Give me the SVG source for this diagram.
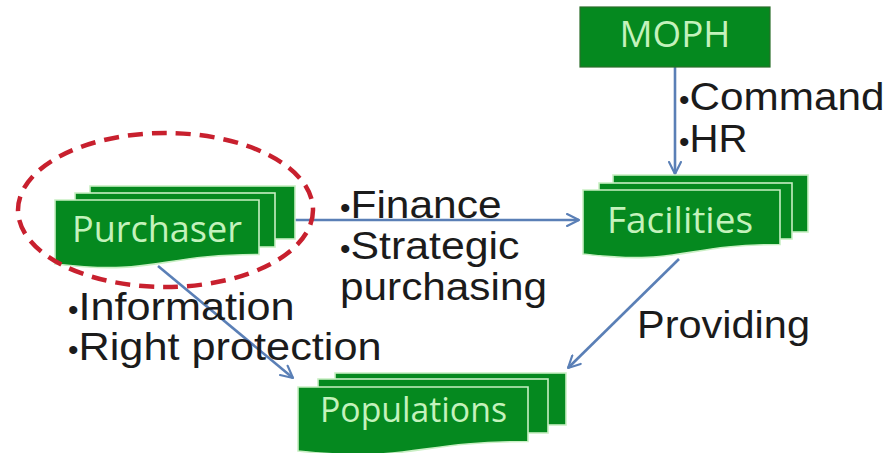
<svg xmlns="http://www.w3.org/2000/svg" width="892" height="453" viewBox="0 0 892 453">
  <style>
    .page { fill: #05891f; stroke: #c9efc4; stroke-width: 1.6; }
    .box { fill: #05891f; stroke: #2a6e2a; stroke-width: 1.2; }
    .name { font-family: "Open Sans", "Noto Sans", sans-serif; fill: #c4f2bc; }
    .label { font-family: "Liberation Sans", Arial, sans-serif; font-size: 38px; fill: #1b1b1b; }
    .dot { font-size: 30px; }
    .link { stroke: #5a7fb6; stroke-width: 2.6; fill: none; marker-end: url(#head); }
    .focus { fill: none; stroke: #c8202e; stroke-width: 4.5; stroke-dasharray: 15 9; }
  </style>
  <defs>
    <marker id="head" viewBox="0 0 12 12" refX="11" refY="6" markerWidth="5.5" markerHeight="5.5" markerUnits="strokeWidth" orient="auto">
      <path d="M1,1 L11,6 L1,11" fill="none" stroke="#5a7fb6" stroke-width="1.8" stroke-linecap="round" stroke-linejoin="round"/>
    </marker>
  </defs>

  <rect width="892" height="453" fill="#ffffff"/>

  <!-- connectors -->
  <g id="connectors">
    <line class="link" x1="675" y1="67" x2="675" y2="174"/>
    <line class="link" x1="294" y1="220" x2="579" y2="220"/>
    <line class="link" x1="158" y1="266" x2="293" y2="378"/>
    <line class="link" x1="679" y1="259" x2="568" y2="368"/>
  </g>

  <!-- MOPH -->
  <g id="moph">
    <rect class="box" x="580" y="7" width="190" height="60"/>
    <text class="name" x="675" y="47" font-size="37" text-anchor="middle" textLength="111" lengthAdjust="spacingAndGlyphs">MOPH</text>
  </g>

  <!-- Purchaser -->
  <g id="purchaser">
    <rect class="page" x="90" y="186" width="205" height="53"/>
    <rect class="page" x="75" y="193" width="200" height="54"/>
    <path class="page" d="M55,200 H259 V254.5 C157,254.5 157,276 55,264 Z"/>
    <text class="name" x="72" y="242" font-size="37" textLength="170" lengthAdjust="spacingAndGlyphs">Purchaser</text>
  </g>

  <!-- Facilities -->
  <g id="facilities">
    <rect class="page" x="613" y="175" width="195" height="57"/>
    <rect class="page" x="599" y="183" width="193" height="56"/>
    <path class="page" d="M583,190 H780 V244.5 C681.5,244.5 681.5,266 583,254 Z"/>
    <text class="name" x="607" y="233" font-size="37" textLength="146" lengthAdjust="spacingAndGlyphs">Facilities</text>
  </g>

  <!-- Populations -->
  <g id="populations">
    <rect class="page" x="335" y="373" width="231" height="52"/>
    <rect class="page" x="318" y="379" width="230" height="54"/>
    <path class="page" d="M298,387 H528 V441.5 C413,441.5 413,463 298,451 Z"/>
    <text class="name" x="320" y="422" font-size="35" textLength="187" lengthAdjust="spacingAndGlyphs">Populations</text>
  </g>

  <!-- flow labels -->
  <g id="labels">
    <text class="label" x="679" y="110"><tspan class="dot">•</tspan><tspan textLength="195" lengthAdjust="spacingAndGlyphs">Command</tspan></text>
    <text class="label" x="679" y="152"><tspan class="dot">•</tspan><tspan textLength="58" lengthAdjust="spacingAndGlyphs">HR</tspan></text>
    <text class="label" x="340" y="218"><tspan class="dot">•</tspan><tspan textLength="151" lengthAdjust="spacingAndGlyphs">Finance</tspan></text>
    <text class="label" x="340" y="259"><tspan class="dot">•</tspan><tspan textLength="169" lengthAdjust="spacingAndGlyphs">Strategic</tspan></text>
    <text class="label" x="340" y="300" textLength="207" lengthAdjust="spacingAndGlyphs">purchasing</text>
    <text class="label" x="68" y="320"><tspan class="dot">•</tspan><tspan textLength="216" lengthAdjust="spacingAndGlyphs">Information</tspan></text>
    <text class="label" x="68" y="360"><tspan class="dot">•</tspan><tspan textLength="303" lengthAdjust="spacingAndGlyphs">Right protection</tspan></text>
    <text class="label" x="637" y="338" textLength="173" lengthAdjust="spacingAndGlyphs">Providing</text>
  </g>

  <!-- highlight round the purchaser -->
  <ellipse class="focus" cx="165.5" cy="210" rx="147.5" ry="77"/>
</svg>
